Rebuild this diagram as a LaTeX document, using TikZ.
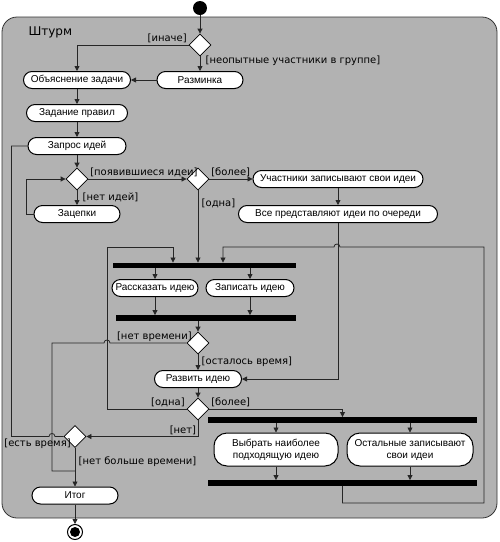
\documentclass[tikz,border=0pt]{standalone}
\usepackage{fontspec}
\setmainfont{DejaVu Sans}
\newfontfamily\actfont{Liberation Sans}
\usetikzlibrary{arrows.meta,shapes.geometric}

\begin{document}
\begin{tikzpicture}[x=1pt, y=-1pt, font=\fontsize{10}{12}\selectfont,
    act/.style={draw, fill=white, line width=1pt, rounded corners=8.5pt, minimum height=17pt,
      inner sep=1pt, align=center, font=\actfont\fontsize{10}{12}\selectfont},
    dec/.style={draw, fill=white, line width=0.8pt, diamond, minimum width=22pt, minimum height=22pt, inner sep=0pt},
    bar/.style={fill=black, minimum height=5.5pt, inner sep=0pt},
    flow/.style={draw=black!85, line width=0.8pt},
    arr/.style={flow, -{Triangle[length=5pt, width=5pt]}},
    grd/.style={inner sep=1.5pt}]
  \useasboundingbox (0,0) rectangle (500,542);
  \draw[draw=black!80, fill=black!30, line width=0.8pt, rounded corners=15pt] (2,17) rectangle (497,518);
  \node[anchor=west, font=\fontsize{12}{14}\selectfont] (title) at (25,32) {Штурм};

  \node[circle, fill=black, minimum size=14pt, inner sep=0pt] (start) at (200,8) {};
  \node[dec] (d1) at (200,45) {};
  \node[act, minimum width=86pt] (warmup) at (200,80) {Разминка};
  \node[act, minimum width=107pt] (task) at (77,80) {Объяснение задачи};
  \node[act, minimum width=101pt] (rules) at (77,113) {Задание правил};
  \node[act, minimum width=98pt] (ask) at (77,146) {Запрос идей};
  \node[dec] (d2) at (77,179) {};
  \node[act, minimum width=86pt] (hooks) at (77,214) {Зацепки};
  \node[dec] (d3) at (198,179) {};
  \node[act, minimum width=170pt] (ups) at (338,179) {Участники записывают свои идеи};
  \node[act, minimum width=199pt] (all) at (338,214) {Все представляют идеи по очереди};
  \node[bar, minimum width=183pt] (fork1) at (204.5,265.5) {};
  \node[act, minimum width=86pt] (tell) at (155,288) {Рассказать идею};
  \node[act, minimum width=88pt] (write) at (250,288) {Записать идею};
  \node[bar, minimum width=180pt] (join1) at (206,318) {};
  \node[dec] (d5) at (198,343) {};
  \node[act, minimum width=87pt] (dev) at (198,379) {Развить идею};
  \node[dec] (d6) at (198,409) {};
  \node[bar, minimum width=269pt] (fork2) at (342.5,420) {};
  \node[act, minimum width=124pt, minimum height=33pt, rounded corners=13pt] (sel1) at (276,449.5) {Выбрать наиболее\\подходящую идею};
  \node[act, minimum width=126pt, minimum height=33pt, rounded corners=13pt] (sel2) at (410,449.5) {Остальные записывают\\свои идеи};
  \node[bar, minimum width=269pt] (join2) at (342.5,483) {};
  \node[dec] (d7) at (75,436.5) {};
  \node[act, minimum width=86pt] (result) at (75,495.5) {Итог};
  \node[circle, draw, line width=1pt, minimum size=15pt, inner sep=0pt] (stop) at (75,532) {};
  \node[circle, fill=black, minimum size=10pt, inner sep=0pt] (stopdot) at (stop) {};

  \coordinate (j1) at (337,247);
  \coordinate (j2) at (107,343);
  \coordinate (j3) at (52,436.5);
  \coordinate (c1) at (223,247);
  \coordinate (c2) at (173,247);
  \coordinate (c3) at (52,471);

  \draw[arr] (start) -- (d1);
  \draw[arr] (d1.west) -| node[pos=0, above left, grd] {[иначе]} (task.north);
  \draw[arr] (d1) -- node[pos=0.3, right, xshift=2pt] {[неопытные участники в группе]} (warmup);
  \draw[arr] (warmup) -- (task);
  \draw[arr] (task) -- (rules);
  \draw[arr] (rules) -- (ask);
  \draw[arr] (ask) -- (d2);
  \draw[arr] (d2) -- node[midway, right, xshift=2pt] {[нет идей]} (hooks);
  \draw[arr] (hooks.west) -- ++(-7,0) |- (d2.west);
  \draw[arr] (d2) -- node[pos=0, above right, grd] {[появившиеся идеи]} (d3);
  \draw[arr] (d3) -- node[pos=0, above right, grd] {[более]} (ups);
  \draw[arr] (d3) -- node[pos=0.18, right] {[одна]} (d3 |- fork1.north);
  \draw[arr] (ups) -- (all);
  \draw[arr] (all.south) |- (dev.east);
  \draw[arr] (tell |- fork1.south) -- (tell);
  \draw[arr] (write |- fork1.south) -- (write);
  \draw[arr] (tell) -- (tell |- join1.north);
  \draw[arr] (write) -- (write |- join1.north);
  \draw[arr] (d5 |- join1.south) -- (d5);
  \draw[arr] (d5) -- node[midway, right] {[осталось время]} (dev);
  \draw[arr] (dev) -- (d6);
  \draw[arr] (d6.east) -| node[pos=0, above right, grd] {[более]} (fork2.north);
  \draw[arr] (d6.south) |- node[pos=0.5, above left, grd] {[нет]} (d7.east);
  \draw[arr] (fork2.south -| sel1) -- (sel1);
  \draw[arr] (fork2.south -| sel2) -- (sel2);
  \draw[arr] (sel1) -- (sel1 |- join2.north);
  \draw[arr] (sel2) -- (sel2 |- join2.north);
  \draw[arr] (d7) -- node[pos=0.35, right] {[нет больше времени]} (result);
  \draw[arr] (result) -- (stop);

  % loops back
  \draw[arr] (join2.south) -- ++(0,17) -| (484,247) -- ([xshift=3pt]j1)
    .. controls +(0,-4) and +(0,-4) .. ([xshift=-3pt]j1) -- (c1) -- (c1 |- fork1.north);
  \draw[arr] (d6.west) -| node[pos=0, above left, grd] {[одна]} (107,247) -| (c2 |- fork1.north);
  \draw[flow] (d5.west) -- node[pos=0, above left, grd, xshift=7pt] {[нет времени]} ([xshift=3pt]j2)
    .. controls +(0,-4) and +(0,-4) .. ([xshift=-3pt]j2) -| (c3) -- (c3 -| result);
  \draw[flow] (ask.west) -- ++(-16,0) |- ([xshift=-3pt]j3)
    .. controls +(0,-4) and +(0,-4) .. ([xshift=3pt]j3)
    -- node[pos=1, anchor=north east, xshift=9pt, grd] {[есть время]} (d7.west);
\end{tikzpicture}
\end{document}
